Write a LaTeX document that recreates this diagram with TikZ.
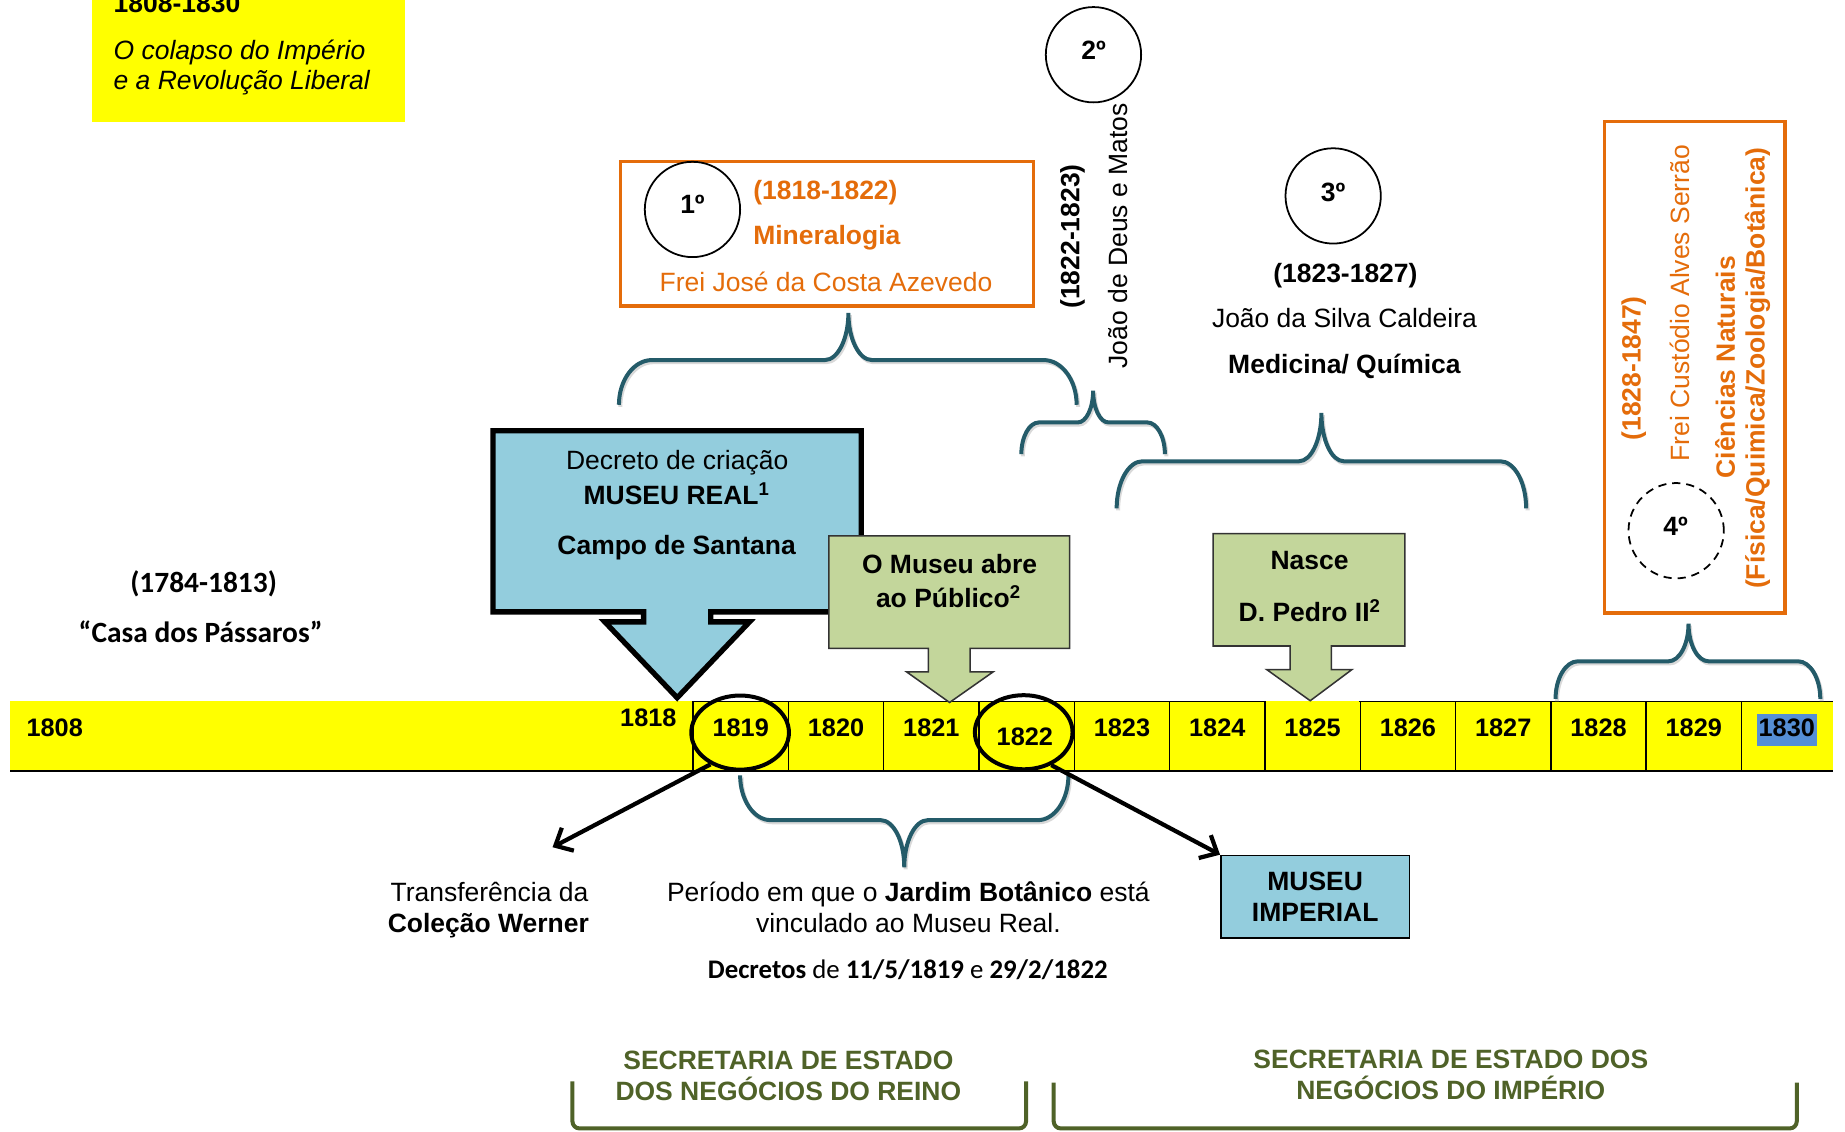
\documentclass[tikz,border=0pt]{standalone}
\usepackage{fontspec}
\setmainfont{Liberation Sans}
\newfontfamily\calibrifont{Carlito}
\usetikzlibrary{arrows.meta,shapes.geometric}

\definecolor{bandyellow}{RGB}{255,255,0}
\definecolor{deeporange}{RGB}{228,108,10}
\definecolor{paleblue}{RGB}{147,205,221}
\definecolor{palegreen}{RGB}{195,214,155}
\definecolor{braceteal}{RGB}{36,91,105}
\definecolor{darkolive}{RGB}{79,98,40}
\definecolor{selblue}{RGB}{85,142,213}

\newcommand\fs{\fontsize{22.5}{27}\selectfont}

% curly brace with a faint shadow:
% #1 left x, #2 right x, #3 tip x, #4 end y, #5 bar y, #6 tip y, #7 end radius, #8 tip radius
\newcommand\curlybrace[8]{%
  \foreach \sx/\sy/\bc in {1.2/1.8/black!15,0/0/braceteal}{%
    \draw[line width=3.4pt,color=\bc,shift={(\sx,\sy)}]
      (#1,#4) .. controls (#1,{#4-0.55*(#4-#5)}) and ({#1+0.45*#7},#5) .. ({#1+#7},#5)
      -- ({#3-#8},#5) .. controls ({#3-0.45*#8},#5) and (#3,{#6+0.55*(#5-#6)}) .. (#3,#6)
      .. controls (#3,{#6+0.55*(#5-#6)}) and ({#3+0.45*#8},#5) .. ({#3+#8},#5)
      -- ({#2-#7},#5) .. controls ({#2-0.45*#7},#5) and (#2,{#4-0.55*(#4-#5)}) .. (#2,#4);
  }}

\begin{document}
\begin{tikzpicture}[x=1pt,y=-1pt,
  txt/.style={inner sep=0pt,font=\fs},
  bld/.style={inner sep=0pt,font=\fs\bfseries},
  itl/.style={inner sep=0pt,font=\fs\itshape},
  yearlbl/.style={inner sep=0pt,font=\fontsize{21.5}{26}\selectfont\bfseries,anchor=base},
  calb/.style={inner sep=0pt,font=\calibrifont\fontsize{25}{29}\selectfont\bfseries},
  ordinal/.style={circle,draw,line width=1.5pt,minimum size=81pt,inner sep=0pt},
  orbox/.style={draw=deeporange,line width=2.7pt,inner sep=0pt},
  greencallout/.style={fill=palegreen,draw=black!80,line width=1.3pt,line join=miter},
  ring/.style={ellipse,draw,line width=3.4pt,minimum width=83pt,minimum height=63pt,inner sep=0pt},
  pointer/.style={line width=3.6pt,-{Straight Barb[length=12pt,width=22pt]}},
  bracket/.style={draw=darkolive,line width=3.4pt,rounded corners=6pt},
]
\useasboundingbox (0,0) rectangle (1568,962);

% ---------- title block ----------
\fill[bandyellow] (78,0) rectangle (344,103.5);
\node[bld,anchor=base west] (ttlyears) at (96.4,10.8) {1808-1830};
\node[itl,anchor=base west] (ttl1) at (96.4,50.4) {O colapso do Império};
\node[itl,anchor=base west] (ttl2) at (96.4,75.9) {e a Revolução Liberal};

% ---------- timeline band ----------
\fill[bandyellow] (8.5,595.5) rectangle (1558,655.5);
\draw[line width=1.2pt] (589,596) -- (1074.5,596) (1155,596) -- (1558,596);
\foreach \k in {0,...,11}
  \draw[line width=1.2pt] ({589+81*\k},596) -- ({589+81*\k},655.5);
\draw[line width=1.6pt] (8.5,655.5) -- (1558,655.5);

% ---------- callouts pointing at the band ----------
\draw[fill=paleblue,line width=4.5pt,line join=miter]
  (419,366) -- (732,366) -- (732,520) -- (604,520) -- (604,528.5) -- (637,528.5)
  -- (575.5,593) -- (514,528.5) -- (547,528.5) -- (547,520) -- (419,520) -- cycle;
\node[txt,anchor=base] (decr1) at (575.5,399) {Decreto de criação};
\node[bld,anchor=base] (decr2) at (575,428.7) {MUSEU REAL\textsuperscript{1}};
\node[bld,anchor=base] (decr3) at (575,471.5) {Campo de Santana};

\draw[greencallout]
  (704.5,455.5) -- (909,455.5) -- (909,551) -- (824.5,551) -- (824.5,571) -- (844,571)
  -- (807,597) -- (770.5,571) -- (789,571) -- (789,551) -- (704.5,551) -- cycle;
\node[bld,anchor=base] (open1) at (807,487) {O Museu abre};
\node[bld,anchor=base] (open2) at (806,516.5) {ao Público\textsuperscript{2}};

\draw[greencallout]
  (1031,453.5) -- (1194,453.5) -- (1194,549) -- (1131.5,549) -- (1131.5,569) -- (1149,569)
  -- (1113.5,595.5) -- (1076.5,569) -- (1096.5,569) -- (1096.5,549) -- (1031,549) -- cycle;
\node[bld,anchor=base] (born1) at (1113,484) {Nasce};
\node[bld,anchor=base] (born2) at (1113,528) {D. Pedro II\textsuperscript{2}};

% ---------- years ----------
\node[yearlbl] (y1808) at (46.5,625.5) {1808};
\node[yearlbl] (y1818) at (551,617.6) {1818};
\foreach \yr/\i in {1819/0,1820/1,1821/2,1823/4,1824/5,1825/6,1826/7,1827/8,1828/9,1829/10}
  \node[yearlbl] (y\yr) at ({629.5+81*\i},625.5) {\yr};
\node[yearlbl] (y1822) at (871,633.5) {1822};
\fill[selblue] (1493,607) rectangle (1544,634);
\node[yearlbl] (y1830) at (1518.5,625.5) {1830};

\node[ring] (e1819) at (629,622.6) {};
\node[ring] (e1822) at (870,622.3) {};

% ---------- 1784-1813 ----------
\node[calb,anchor=base] (casa1) at (173,503.5) {(1784-1813)};
\node[calb,anchor=base] (casa2) at (170.5,546) {“Casa dos Pássaros”};

% ---------- 1st director ----------
\node[orbox,minimum width=351.5pt,minimum height=122.5pt] (box1) at (702.75,198.75) {};
\node[ordinal] (o1) at (588.5,178) {};
\node[bld,anchor=base] (o1t) at (588.5,181.5) {1º};
\node[bld,anchor=base west,text=deeporange] (d1a) at (640,169.5) {(1818-1822)};
\node[bld,anchor=base west,text=deeporange] (d1b) at (640,208) {Mineralogia};
\node[txt,anchor=base,text=deeporange] (d1c) at (702,248) {Frei José da Costa Azevedo};
\curlybrace{526}{915}{721}{344}{306}{266}{28}{20}

% ---------- 2nd director ----------
\node[ordinal] (o2) at (929.3,46.5) {};
\node[bld,anchor=base] (o2t) at (929.3,50.5) {2º};
\node[bld,rotate=90] (d2a) at (911.4,201) {(1822-1823)};
\node[txt,rotate=90] (d2b) at (950.5,200.4) {João de Deus e Matos};
\curlybrace{868}{990}{929}{386}{359}{332}{15}{13}

% ---------- 3rd director ----------
\node[ordinal] (o3) at (1133,166.5) {};
\node[bld,anchor=base] (o3t) at (1133,171) {3º};
\node[bld,anchor=base] (d3a) at (1143.4,239.7) {(1823-1827)};
\node[txt,anchor=base] (d3b) at (1142.6,278.6) {João da Silva Caldeira};
\node[bld,anchor=base] (d3c) at (1142.6,317.8) {Medicina/ Química};
\curlybrace{949}{1297}{1123}{432}{392}{351}{22}{19}

% ---------- 4th director ----------
\node[orbox,minimum width=153.5pt,minimum height=418pt] (box4) at (1440.25,312) {};
\node[bld,rotate=90,text=deeporange] (d4a) at (1388.5,313) {(1828-1847)};
\node[txt,rotate=90,text=deeporange] (d4b) at (1427.4,257.6) {Frei Custódio Alves Serrão};
\node[bld,rotate=90,text=deeporange] (d4c) at (1466,312) {Ciências Naturais};
\node[bld,rotate=90,text=deeporange] (d4d) at (1493.7,313) {(Física/Quimica/Zoologia/Botânica)};
\node[ordinal,dash pattern=on 7pt off 5pt] (o4) at (1424.5,451) {};
\node[bld,anchor=base] (o4t) at (1424,455.5) {4º};
\curlybrace{1322}{1547}{1435}{594}{562}{530}{19}{17}

% ---------- below the band ----------
\curlybrace{629}{908}{768.5}{659}{697}{737}{26}{20}

\node[fill=paleblue,draw,line width=1.3pt,minimum width=160.5pt,minimum height=70pt,
      inner sep=0pt,align=center,font=\fontsize{22.5}{26}\selectfont\bfseries]
  (mimp) at (1117.75,762) {MUSEU\\IMPERIAL};

\coordinate (wernerend) at (469.6,720);
\draw[pointer] (e1819.227) -- (wernerend);
\draw[pointer] (e1822.-50) -- (mimp.north west);

\node[txt,anchor=base] (wer1) at (416,766) {Transferência da};
\node[bld,anchor=base] (wer2) at (415,792.7) {Coleção Werner};
\node[txt,anchor=base] (jb1) at (772,766) {Período em que o \textbf{Jardim Botânico} está};
\node[txt,anchor=base] (jb2) at (772,792.7) {vinculado ao Museu Real.};
\node[inner sep=0pt,anchor=base,font=\calibrifont\fontsize{22.8}{27}\selectfont] (jb3)
  at (771.5,832) {\textbf{Decretos} de \textbf{11/5/1819} e \textbf{29/2/1822}};

% ---------- secretariats ----------
\node[bld,anchor=base,text=darkolive] (sr1) at (670,908.8) {SECRETARIA DE ESTADO};
\node[bld,anchor=base,text=darkolive] (sr2) at (670,935.2) {DOS NEGÓCIOS DO REINO};
\draw[bracket] (486.5,919) -- (486.5,959) -- (872,959) -- (872,919);
\node[bld,anchor=base,text=darkolive] (si1) at (1233,908) {SECRETARIA DE ESTADO DOS};
\node[bld,anchor=base,text=darkolive] (si2) at (1233,934.7) {NEGÓCIOS DO IMPÉRIO};
\draw[bracket] (895.5,920) -- (895.5,959) -- (1527,959) -- (1527,920);
\end{tikzpicture}
\end{document}
